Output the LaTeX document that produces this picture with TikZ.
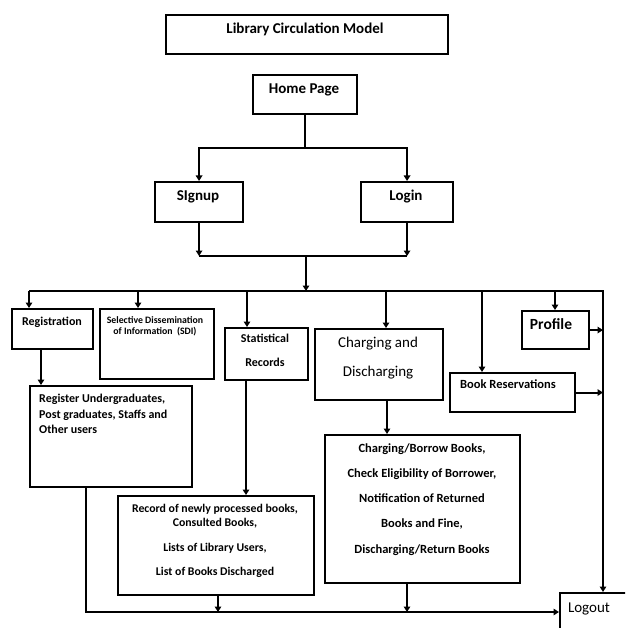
\documentclass[tikz,border=0pt]{standalone}
\usepackage{fontspec}
\setmainfont{Carlito}
\usetikzlibrary{arrows.meta}
\begin{document}
\begin{tikzpicture}[x=1pt,y=-1pt,
  box/.style={draw, line width=2.1pt, inner sep=0pt, anchor=north west},
  ln/.style={line width=2pt},
  arr/.style={line width=2pt, -{Triangle[length=5.5pt,width=6.5pt]}},
  txt/.style={inner sep=0pt, anchor=mid, yshift=-2pt, font=\bfseries\fontsize{#1}{#1}\selectfont},
  txtl/.style={inner sep=0pt, anchor=mid west, yshift=-2pt, font=\bfseries\fontsize{#1}{#1}\selectfont},
  txtr/.style={inner sep=0pt, anchor=mid, yshift=-2pt, font=\fontsize{#1}{#1}\selectfont},
]
\useasboundingbox (0,0) rectangle (625,628);
\clip (0,0) rectangle (625,628);

% boxes
\node[box, minimum width=282pt, minimum height=39pt] (title) at (165,14) {};
\node[box, minimum width=104pt, minimum height=39pt] (home) at (252,74) {};
\node[box, minimum width=88pt, minimum height=40pt] (signup) at (154,181) {};
\node[box, minimum width=92pt, minimum height=40pt] (login) at (360,181) {};
\node[box, minimum width=81pt, minimum height=40pt] (reg) at (11,308) {};
\node[box, minimum width=114pt, minimum height=70pt] (sdi) at (99,308) {};
\node[box, minimum width=83pt, minimum height=52pt] (stat) at (224,327) {};
\node[box, minimum width=128pt, minimum height=71pt] (charge) at (314,328) {};
\node[box, minimum width=125pt, minimum height=39pt] (bookres) at (449,372) {};
\node[box, minimum width=67pt, minimum height=38pt] (profile) at (521,310) {};
\node[box, minimum width=162pt, minimum height=101pt] (regusers) at (29,385) {};
\node[box, minimum width=196pt, minimum height=99pt] (record) at (117,495) {};
\node[box, minimum width=195pt, minimum height=148pt] (chdetail) at (324,434) {};
\node[box, minimum width=80pt, minimum height=50pt] (logout) at (559,592) {};

% texts
\node[txt=15pt] (t-title) at (305,29) {Library Circulation Model};
\node[txt=15pt] (t-home) at (304,89) {Home Page};
\node[txt=15pt] (t-signup) at (198,196) {SIgnup};
\node[txt=15pt] (t-login) at (406,196) {Login};
\node[txt=12pt] (t-reg) at (52,321) {Registration};
\node[txt=9.8pt] (t-sdi1) at (155,319) {Selective Dissemination};
\node[txt=9.8pt] (t-sdi2) at (155,330) {of Information\ \ (SDI)};
\node[txt=12pt] (t-stat1) at (265,338) {Statistical};
\node[txt=12pt] (t-stat2) at (265,362) {Records};
\node[txtr=15pt] (t-ch1) at (378,343) {Charging and};
\node[txtr=15pt] (t-ch2) at (378,372) {Discharging};
\node[txt=12.5pt] (t-bookres) at (508,384) {Book Reservations};
\node[txt=15.5pt] (t-profile) at (551,325) {Profile};
\node[txtl=12pt] (t-ru1) at (39,398) {Register Undergraduates,};
\node[txtl=12pt] (t-ru2) at (39,414) {Post graduates, Staffs and};
\node[txtl=12pt] (t-ru3) at (39,429) {Other users};
\node[txt=11.8pt] (t-rec1) at (215,508) {Record of newly processed books,};
\node[txt=11.8pt] (t-rec2) at (215,522) {Consulted Books,};
\node[txt=11.8pt] (t-rec3) at (215,547) {Lists of Library Users,};
\node[txt=11.8pt] (t-rec4) at (215,571) {List of Books Discharged};
\node[txt=12.5pt] (t-cd1) at (422,448) {Charging/Borrow Books,};
\node[txt=12.5pt] (t-cd2) at (422,473) {Check Eligibility of Borrower,};
\node[txt=12.5pt] (t-cd3) at (422,498) {Notification of Returned};
\node[txt=12.5pt] (t-cd4) at (422,523) {Books and Fine,};
\node[txt=12.5pt] (t-cd5) at (422,549) {Discharging/Return Books};
\node[txtr=15pt] (t-logout) at (589,608) {Logout};

% connectors
\coordinate (hp) at (304,148);
\draw[ln] (home.south) -- (home.south |- hp);
\draw[arr] (home.south |- hp) -| (signup.north);
\draw[arr] (home.south |- hp) -| (login.north);

\coordinate (sl) at (306,256);
\draw[arr] (signup.south) -- (signup.south |- sl);
\draw[arr] (login.south) -- (login.south |- sl);
\draw[ln] (signup.south |- sl) -- (login.south |- sl);

\coordinate (busL) at (29,291);
\coordinate (busR) at (603,291);
\draw[arr] (sl) -- (sl |- busL);
\draw[arr] (busL) -- (busR) -- (busR |- logout.north);

\coordinate (b2) at (138,291);
\coordinate (b3) at (247,291);
\coordinate (b4) at (386,291);
\coordinate (b5) at (482,291);
\coordinate (b6) at (555,291);
\draw[arr] (busL) -- (busL |- reg.north);
\draw[arr] (b2) -- (b2 |- sdi.north);
\draw[arr] (b3) -- (b3 |- stat.north);
\draw[arr] (b4) -- (b4 |- charge.north);
\draw[arr] (b5) -- (b5 |- bookres.north);
\draw[arr] (b6) -- (b6 |- profile.north);

\draw[arr] (profile.east) -- (profile.east -| busR);
\draw[arr] (bookres.east) -- (bookres.east -| busR);

\coordinate (r1) at (41,348);
\draw[arr] (r1) -- (r1 |- regusers.north);
\coordinate (s1) at (246,379);
\draw[arr] (s1) -- (s1 |- record.north);
\coordinate (c1) at (387,399);
\draw[arr] (c1) -- (c1 |- chdetail.north);

\coordinate (bb) at (86,612);
\draw[arr] (bb |- regusers.south) -- (bb) -- (bb -| logout.west);
\coordinate (rb) at (218,594);
\draw[arr] (rb) -- (rb |- bb);
\coordinate (cb) at (407,582);
\draw[arr] (cb) -- (cb |- bb);
\end{tikzpicture}
\end{document}
